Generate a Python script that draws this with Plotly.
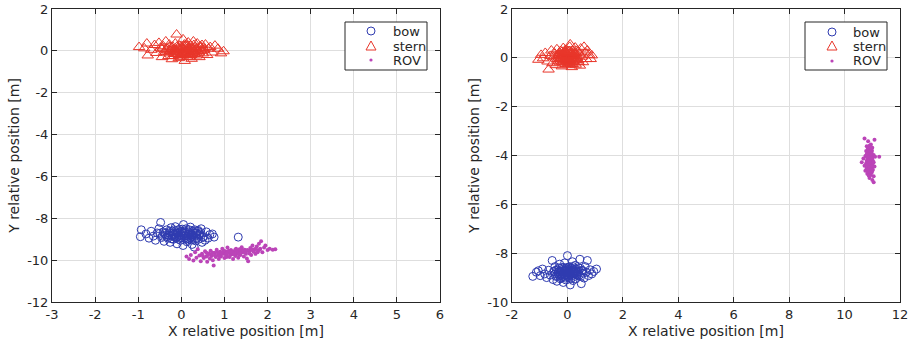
import plotly.graph_objects as go

# ---- Test A (left panel): relative positions [m] ----
stern_a = [(-0.98,0.18),(-0.86,0.12),(-0.80,0.35),(-0.78,-0.22),(-0.70,0.05),(-0.62,0.28),(-0.58,-0.10),
           (-0.52,0.38),(-0.48,0.15),(-0.45,-0.30),(-0.42,0.22),(-0.40,-0.05),(-0.36,0.45),(-0.33,0.10),
           (-0.30,-0.25),(-0.28,0.30),(-0.26,0.00),(-0.22,-0.40),(-0.20,0.20),(-0.18,0.08),(-0.16,-0.15),
           (-0.14,0.35),(-0.11,0.78),(-0.10,-0.05),(-0.08,0.12),(-0.06,-0.35),(-0.04,0.25),(-0.02,0.05),
           (0.00,-0.20),(0.02,0.15),(0.04,0.55),(0.05,-0.10),(0.07,0.30),(0.08,-0.48),(0.10,0.02),
           (0.12,0.20),(0.14,-0.28),(0.16,0.40),(0.18,0.08),(0.20,-0.15),(0.22,0.25),(0.24,-0.38),
           (0.26,0.10),(0.28,0.45),(0.30,-0.05),(0.32,0.18),(0.35,-0.22),(0.37,0.35),(0.40,0.00),
           (0.42,-0.30),(0.45,0.15),(0.48,0.28),(0.50,-0.12),(0.53,0.05),(0.56,0.30),(0.60,-0.20),
           (0.63,0.10),(0.67,0.18),(0.72,-0.08),(0.78,0.25),(0.85,0.10),(0.92,-0.12),(0.98,-0.02),
           (-0.12,0.02),(0.08,-0.08),(0.18,0.12),(-0.25,-0.02),(0.33,0.06),(0.01,-0.12),(-0.05,0.10),
           (0.12,-0.02),(-0.15,0.05),(0.25,-0.10),(0.05,0.08),(-0.08,-0.15),
           (-0.35,0.05),(-0.30,-0.12),(-0.22,0.15),(-0.18,-0.08),(-0.10,0.20),(-0.05,-0.22),(0.00,0.18),
           (0.03,-0.05),(0.06,0.22),(0.09,-0.18),(0.13,0.08),(0.16,-0.05),(0.21,0.15),(0.23,-0.20),
           (0.27,0.02),(0.31,-0.15),(0.36,0.10),(0.41,-0.08),(0.44,0.22),(0.47,0.00),(-0.28,0.18),
           (-0.20,-0.25),(0.11,0.30),(0.19,-0.30),(-0.02,-0.30),(0.29,0.28),(0.38,-0.02),(0.52,0.12),
           (-0.45,0.08),(0.06,0.02)]

bow_a = [(-0.95,-8.88),(-0.93,-8.55),(-0.82,-8.75),(-0.75,-8.95),(-0.70,-8.62),(-0.65,-8.85),(-0.60,-9.05),
         (-0.56,-8.70),(-0.52,-8.50),(-0.48,-8.20),(-0.46,-8.92),(-0.42,-8.65),(-0.40,-9.10),(-0.37,-8.80),
         (-0.34,-8.55),(-0.31,-8.95),(-0.28,-8.70),(-0.26,-9.15),(-0.24,-8.45),(-0.22,-8.85),(-0.20,-8.62),
         (-0.18,-9.00),(-0.16,-8.75),(-0.14,-8.40),(-0.12,-8.92),(-0.10,-9.22),(-0.08,-8.68),(-0.06,-8.85),
         (-0.04,-8.52),(-0.02,-9.05),(0.00,-8.78),(0.02,-8.62),(0.04,-9.30),(0.05,-8.30),(0.07,-8.95),
         (0.09,-8.72),(0.11,-8.50),(0.13,-9.12),(0.15,-8.85),(0.17,-8.65),(0.19,-9.00),(0.21,-8.42),
         (0.23,-8.80),(0.25,-9.25),(0.27,-8.70),(0.29,-8.95),(0.31,-8.55),(0.33,-9.08),(0.35,-8.82),
         (0.38,-8.62),(0.40,-9.00),(0.43,-8.75),(0.46,-8.50),(0.48,-9.15),(0.52,-8.88),(0.55,-9.05),
         (0.58,-8.65),(0.62,-8.95),(0.66,-8.78),(0.72,-8.75),(0.76,-8.90),(0.30,-9.38),(1.32,-8.90),
         (-0.05,-8.80),(0.10,-8.85),(-0.15,-8.90),(0.20,-8.75),(-0.30,-8.82),(0.05,-8.70),(0.15,-8.95),
         (-0.10,-8.72),(0.25,-8.88),(0.00,-8.92),(-0.20,-8.78),(0.35,-8.70),
         (-0.38,-8.72),(-0.33,-8.88),(-0.27,-8.62),(-0.23,-8.98),(-0.19,-8.70),(-0.13,-8.82),(-0.09,-8.58),
         (-0.03,-8.95),(0.01,-8.68),(0.06,-8.85),(0.08,-8.60),(0.12,-8.98),(0.16,-8.78),(0.18,-8.55),
         (0.22,-8.92),(0.26,-8.62),(0.28,-8.82),(0.32,-8.70),(0.36,-8.95),(0.41,-8.80),(0.45,-8.68),
         (0.50,-8.92),(-0.44,-8.85),(-0.50,-8.72),(-0.07,-9.00),(0.03,-8.52),(0.14,-9.05),(-0.17,-8.55),
         (0.24,-9.02),(0.39,-8.58)]

rov_a = [(0.12,-9.82),(0.18,-9.95),(0.22,-9.75),(0.28,-10.02),(0.32,-9.62),(0.35,-9.88),(0.38,-9.48),
         (0.42,-9.78),(0.45,-10.05),(0.48,-9.70),(0.52,-9.90),(0.55,-9.58),(0.58,-9.82),(0.60,-10.08),
         (0.63,-9.68),(0.66,-9.92),(0.68,-9.55),(0.70,-9.80),(0.73,-10.00),(0.75,-10.25),(0.77,-9.65),
         (0.80,-9.85),(0.82,-9.50),(0.85,-9.75),(0.87,-9.95),(0.90,-9.60),(0.92,-9.82),(0.95,-9.45),
         (0.97,-9.70),(1.00,-9.90),(1.02,-9.58),(1.05,-9.78),(1.07,-9.40),(1.10,-9.65),(1.12,-9.85),
         (1.15,-9.52),(1.17,-9.72),(1.20,-9.95),(1.22,-9.60),(1.25,-9.80),(1.27,-9.45),(1.30,-9.68),
         (1.32,-9.88),(1.35,-9.55),(1.37,-9.75),(1.40,-9.38),(1.42,-9.62),(1.45,-9.82),(1.47,-9.50),
         (1.50,-9.70),(1.52,-9.92),(1.55,-10.05),(1.57,-9.58),(1.60,-9.42),(1.62,-9.75),(1.65,-9.30),
         (1.68,-9.60),(1.70,-9.48),(1.72,-9.70),(1.75,-9.35),(1.78,-9.55),(1.80,-9.22),(1.83,-9.45),
         (1.85,-9.10),(1.88,-9.62),(1.92,-9.40),(1.95,-9.30),(2.00,-9.52),(2.05,-9.45),(2.12,-9.50),
         (2.18,-9.48),(1.10,-9.55),(1.30,-9.60),(0.90,-9.70),(1.50,-9.58),(1.20,-9.70),(0.70,-9.72),
         (1.40,-9.50),(1.00,-9.65),(1.60,-9.52),
         (0.62,-9.75),(0.72,-9.65),(0.78,-9.78),(0.84,-9.62),(0.88,-9.80),(0.94,-9.68),(0.98,-9.55),
         (1.03,-9.72),(1.08,-9.60),(1.13,-9.75),(1.18,-9.58),(1.23,-9.70),(1.28,-9.55),(1.33,-9.72),
         (1.38,-9.62),(1.43,-9.55),(1.48,-9.65),(1.53,-9.52),(1.58,-9.68),(1.63,-9.48),(1.67,-9.58),
         (1.73,-9.45),(1.77,-9.62),(1.82,-9.50),(0.58,-9.65),(0.50,-9.80),(1.15,-9.62),(1.35,-9.48),
         (1.05,-9.85),(1.25,-9.50)]

# ---- Test B (right panel): relative positions [m] ----
stern_b = [(-1.05,-0.08),(-0.95,0.12),(-0.88,-0.02),(-0.80,0.20),(-0.72,-0.15),(-0.68,-0.48),(-0.62,0.08),
           (-0.58,0.30),(-0.54,-0.22),(-0.50,0.02),(-0.46,0.18),(-0.42,-0.30),(-0.38,0.35),(-0.35,-0.05),
           (-0.32,0.12),(-0.28,-0.18),(-0.25,0.28),(-0.22,0.00),(-0.20,-0.35),(-0.18,0.15),(-0.15,0.40),
           (-0.12,-0.10),(-0.10,0.22),(-0.08,-0.25),(-0.06,0.05),(-0.04,0.32),(-0.02,-0.12),(0.00,0.10),
           (0.02,-0.30),(0.04,0.25),(0.06,-0.05),(0.08,0.45),(0.10,0.55),(0.12,-0.20),(0.14,0.15),
           (0.16,-0.38),(0.18,0.30),(0.20,0.00),(0.22,-0.15),(0.25,0.20),(0.28,0.42),(0.30,-0.28),
           (0.33,0.08),(0.36,0.30),(0.39,-0.10),(0.42,0.18),(0.45,-0.32),(0.48,0.38),(0.52,0.05),
           (0.56,-0.18),(0.60,0.45),(0.64,0.22),(0.68,-0.05),(0.72,0.30),(0.78,0.12),(0.84,-0.05),
           (0.88,0.10),(-0.05,0.02),(0.05,-0.08),(-0.15,0.08),(0.15,0.05),(-0.25,-0.05),(0.25,-0.02),
           (0.00,-0.15),(-0.10,0.12),(0.10,0.15),(-0.30,0.10),(0.35,-0.05),(-0.02,0.20),(0.08,-0.18),
           (-0.38,0.10),(-0.33,-0.12),(-0.28,0.20),(-0.24,-0.02),(-0.20,0.25),(-0.17,-0.18),(-0.13,0.05),
           (-0.09,0.30),(-0.07,-0.08),(-0.03,0.15),(0.01,-0.22),(0.03,0.05),(0.07,0.28),(0.09,-0.12),
           (0.11,0.08),(0.13,-0.02),(0.17,0.20),(0.19,-0.25),(0.23,0.10),(0.27,-0.10),(0.31,0.18),
           (0.34,0.02),(0.38,0.25),(0.41,-0.18),(-0.12,0.00),(0.02,0.12),(0.20,0.12),(-0.22,0.12),
           (0.06,-0.15),(-0.06,0.22)]

bow_b = [(-1.25,-8.95),(-1.12,-8.78),(-1.05,-8.72),(-0.98,-8.92),(-0.90,-8.65),(-0.82,-8.85),(-0.75,-9.00),
         (-0.68,-8.70),(-0.62,-8.90),(-0.55,-8.30),(-0.52,-9.08),(-0.48,-8.75),(-0.45,-8.55),(-0.42,-8.95),
         (-0.38,-9.15),(-0.35,-8.68),(-0.32,-8.85),(-0.28,-8.45),(-0.25,-9.05),(-0.22,-8.78),(-0.20,-8.60),
         (-0.18,-8.95),(-0.15,-9.20),(-0.12,-8.72),(-0.10,-8.40),(-0.08,-8.88),(-0.05,-9.10),(-0.02,-8.65),
         (0.00,-8.10),(0.02,-8.82),(0.05,-9.00),(0.08,-8.55),(0.10,-9.30),(0.12,-8.75),(0.15,-8.92),
         (0.18,-8.35),(0.20,-9.12),(0.22,-8.68),(0.25,-8.85),(0.28,-8.50),(0.30,-9.05),(0.33,-8.72),
         (0.36,-8.90),(0.40,-8.60),(0.45,-8.25),(0.48,-8.95),(0.50,-9.25),(0.52,-8.70),(0.56,-8.82),
         (0.60,-9.02),(0.64,-8.55),(0.68,-8.78),(0.72,-8.30),(0.76,-8.92),(0.82,-8.68),(0.88,-8.85),
         (0.95,-8.75),(1.05,-8.65),(-0.05,-8.80),(0.05,-8.75),(-0.15,-8.85),(0.15,-8.70),(-0.25,-8.90),
         (0.25,-8.78),(0.00,-8.95),(-0.10,-8.70),(0.10,-8.88),(-0.30,-8.75),(0.35,-8.80),(-0.02,-8.60),
         (-0.45,-8.85),(-0.40,-8.68),(-0.36,-8.95),(-0.30,-8.60),(-0.27,-8.82),(-0.23,-9.00),(-0.19,-8.72),
         (-0.14,-8.58),(-0.11,-8.95),(-0.07,-8.75),(-0.03,-8.88),(0.01,-8.70),(0.04,-8.58),(0.07,-8.92),
         (0.09,-8.78),(0.13,-9.05),(0.16,-8.62),(0.19,-8.85),(0.23,-8.72),(0.27,-8.95),(0.31,-8.65),
         (0.34,-8.85),(0.38,-8.75),(0.43,-8.90),(0.47,-8.62),(-0.50,-8.75),(-0.08,-9.02),(0.20,-8.55),
         (0.55,-8.72),(-0.33,-8.78)]

rov_b = [(10.72,-3.30),(11.08,-3.35),(10.85,-3.42),(10.95,-3.55),(10.80,-3.62),(11.00,-3.68),(10.88,-3.75),
         (10.78,-3.82),(10.98,-3.85),(10.82,-3.90),(10.92,-3.95),(11.05,-3.98),(10.75,-4.02),(10.88,-4.05),
         (11.00,-4.08),(10.68,-4.12),(10.85,-4.15),(10.95,-4.18),(11.10,-4.05),(11.25,-4.05),(10.80,-4.22),
         (10.92,-4.25),(11.05,-4.28),(10.62,-4.28),(10.78,-4.32),(10.88,-4.35),(11.00,-4.38),(10.72,-4.42),
         (10.85,-4.45),(10.97,-4.48),(11.08,-4.45),(10.80,-4.52),(10.92,-4.55),(11.02,-4.58),(10.75,-4.62),
         (10.88,-4.65),(10.98,-4.70),(10.82,-4.75),(10.95,-4.80),(11.05,-4.85),(10.90,-4.92),(11.00,-5.00),
         (11.05,-5.10),(10.90,-3.60),(10.95,-4.00),(10.85,-4.30),(10.92,-4.40),(10.88,-3.88),(10.95,-4.62),
         (10.82,-4.10),(11.02,-4.22),(10.90,-4.12),(10.86,-4.50),(10.98,-3.78),(10.93,-4.35),
         (10.84,-3.72),(10.92,-3.80),(10.86,-3.95),(10.96,-4.02),(10.83,-4.05),(10.91,-4.15),(10.99,-4.12),
         (10.87,-4.20),(10.95,-4.28),(10.83,-4.38),(10.91,-4.32),(10.99,-4.42),(10.89,-4.48),(10.94,-4.58),
         (10.84,-4.58),(10.90,-4.70),(11.00,-4.62),(10.93,-3.68),(10.80,-3.95),(11.03,-4.30),(10.87,-4.82),
         (10.97,-3.92),(10.89,-4.25),(10.95,-4.10),(10.85,-4.65)]

# Tick values and labels (plain hyphen minus, MATLAB style)
xticks_a = list(range(-3, 7))
yticks_a = list(range(-12, 3, 2))
xticks_b = list(range(-2, 13, 2))
yticks_b = list(range(-10, 3, 2))
series_names = ["bow", "stern", "ROV"]

BOW_COLOR = "#2f3bb0"
STERN_COLOR = "#e8362a"
ROV_COLOR = "#bb44b8"
INK = "#262626"
FONT = "DejaVu Sans"

W, H = 910, 343
ML, MR, MT, MB = 52, 10, 9, 41
PW, PH = W - ML - MR, H - MT - MB

def px_x(px):
    return (px - ML) / PW

def px_y(py):
    return 1 - (py - MT) / PH

fig = go.Figure()

STYLES = {
    "bow": ("circle-open", 8, BOW_COLOR),
    "stern": ("triangle-up-open", 10, STERN_COLOR),
    "ROV": ("circle", 4, ROV_COLOR),
}

def add_panel(bow, stern, rov, xa, ya):
    for name, pts in zip(series_names, [bow, stern, rov]):
        symbol, size, color = STYLES[name]
        fig.add_trace(go.Scatter(
            x=[p[0] for p in pts], y=[p[1] for p in pts],
            mode="markers", name=name, xaxis=xa, yaxis=ya, showlegend=False,
            marker=dict(symbol=symbol, size=size, color=color,
                        line=dict(width=1 if name != "ROV" else 0, color=color)),
        ))

add_panel(bow_a, stern_a, rov_a, "x", "y")
add_panel(bow_b, stern_b, rov_b, "x2", "y2")

def tick_text(vals):
    return [str(v) for v in vals]

axis_common = dict(
    showline=True, linecolor=INK, linewidth=1, mirror="allticks",
    ticks="inside", ticklen=5, tickcolor=INK, tickwidth=1,
    showgrid=True, gridcolor="#dedede", gridwidth=1, zeroline=False,
    tickfont=dict(family=FONT, size=13, color=INK),
    title_font=dict(family=FONT, size=14, color=INK),
    automargin=False, tickmode="array",
)

left_end = px_x(440)
right_start = px_x(512)

fig.update_layout(
    width=W, height=H,
    margin=dict(l=ML, r=MR, t=MT, b=MB, autoexpand=False),
    paper_bgcolor="white", plot_bgcolor="white",
    xaxis=dict(axis_common, domain=[0, left_end], range=[-3, 6],
               tickvals=xticks_a, ticktext=tick_text(xticks_a),
               title=dict(text="X relative position [m]", standoff=5)),
    yaxis=dict(axis_common, domain=[0, 1], range=[-12, 2],
               tickvals=yticks_a, ticktext=tick_text(yticks_a),
               title=dict(text="Y relative position [m]", standoff=4)),
    xaxis2=dict(axis_common, domain=[right_start, 1], range=[-2, 12], anchor="y2",
                tickvals=xticks_b, ticktext=tick_text(xticks_b),
                title=dict(text="X relative position [m]", standoff=5)),
    yaxis2=dict(axis_common, domain=[0, 1], range=[-10, 2], anchor="x2",
                tickvals=yticks_b, ticktext=tick_text(yticks_b),
                title=dict(text="Y relative position [m]", standoff=4)),
    showlegend=False,
)

# Boxed legends drawn in the upper-right corner of each panel
def add_legend(box_left, box_right, marker_x, text_x, rows_y, box_top=22, box_bottom=70):
    fig.add_shape(type="rect", xref="paper", yref="paper",
                  x0=px_x(box_left), x1=px_x(box_right), y0=px_y(box_bottom), y1=px_y(box_top),
                  line=dict(color=INK, width=1), fillcolor="white", layer="above")
    for name, ry in zip(series_names, rows_y):
        symbol, size, color = STYLES[name]
        cx, cy = px_x(marker_x), px_y(ry)
        if name == "bow":
            fig.add_shape(type="circle", xref="paper", yref="paper",
                          xsizemode="pixel", ysizemode="pixel", xanchor=cx, yanchor=cy,
                          x0=-4, x1=4, y0=-4, y1=4,
                          line=dict(color=color, width=1), layer="above")
        elif name == "stern":
            fig.add_shape(type="path", xref="paper", yref="paper",
                          xsizemode="pixel", ysizemode="pixel", xanchor=cx, yanchor=cy,
                          path="M -5,-4 L 5,-4 L 0,5 Z",
                          line=dict(color=color, width=1), layer="above")
        else:
            fig.add_shape(type="circle", xref="paper", yref="paper",
                          xsizemode="pixel", ysizemode="pixel", xanchor=cx, yanchor=cy,
                          x0=-1.6, x1=1.6, y0=-1.6, y1=1.6,
                          line=dict(color=color, width=0), fillcolor=color, layer="above")
        fig.add_annotation(xref="paper", yref="paper", x=px_x(text_x), y=cy,
                           text=name, showarrow=False, xanchor="left", yanchor="middle",
                           font=dict(family=FONT, size=13, color=INK))

add_legend(345, 427, 371, 391, [31, 46, 60])
add_legend(805, 887, 832, 851, [32, 46, 61])

fig.write_html("out.html")
